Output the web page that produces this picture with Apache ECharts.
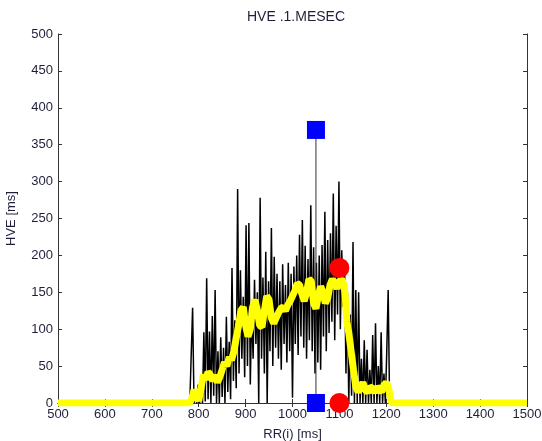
<!DOCTYPE html>
<html>
<head>
<meta charset="utf-8">
<script src="https://cdn.jsdelivr.net/npm/echarts@6/dist/echarts.min.js"></script>
<style>
  html, body { margin: 0; padding: 0; background: #fff; }
  #chart { width: 542px; height: 441px; }
</style>
</head>
<body>
<div id="chart"></div>
<script>
// raw HVE per RR interval (black), x grid starts at 781 ms, every 3 ms
var rrStart = 781
var rrStep = 3
var hveRaw = [
  0, 0, 129, 0, 10, 0, 25, 0, 35, 0,
  96, 2, 169, 5, 97, 0, 118, 10, 153, 0,
  70, 0, 89, 8, 75, 0, 117, 15, 83, 5,
  183, 30, 112, 20, 290, 40, 180, 60, 144, 35,
  241, 50, 244, 25, 130, 60, 167, 80, 150, 0,
  278, 60, 170, 40, 205, 0, 165, 70, 237, 50,
  198, 75, 175, 60, 165, 45, 188, 80, 160, 55,
  190, 70, 175, 7, 185, 80, 200, 65, 228, 90,
  248, 75, 213, 60, 195, 85, 268, 70, 211, 40,
  190, 55, 200, 45, 214, 90, 259, 70, 221, 95,
  230, 110, 284, 85, 240, 120, 300, 100, 207, 130,
  190, 40, 150, 0, 120, 10, 218, 0, 153, 0,
  150, 0, 60, 0, 85, 0, 72, 0, 45, 0,
  92, 0, 108, 0, 50, 0, 96, 0, 40, 0,
  70, 153, 0
]

// smoothed curve (yellow)
var rrSmooth = [
  500, 780, 785, 790, 795, 800, 805, 810, 815, 820, 825, 830, 835, 840, 845,
  850, 855, 860, 865, 870, 875, 880, 885, 890, 895, 900, 905, 910, 915, 920,
  925, 930, 935, 940, 945, 950, 955, 960, 965, 970, 975, 980, 985, 990, 995,
  1000, 1005, 1010, 1015, 1020, 1025, 1030, 1035, 1040, 1045, 1050, 1055, 1060,
  1065, 1070, 1075, 1080, 1085, 1090, 1095, 1100, 1105, 1110, 1113, 1116, 1120,
  1125, 1130, 1135, 1140, 1145, 1150, 1155, 1160, 1165, 1170, 1175, 1180, 1185,
  1190, 1195, 1200, 1205, 1210, 1215, 1500
]
var hveSmooth = [
  0, 0, 5, 18, 10, 3, 20, 38, 32, 42, 38, 30, 38, 28, 35,
  45, 55, 50, 62, 58, 70, 88, 105, 125, 130, 105, 90, 100, 130, 140,
  125, 105, 103, 125, 145, 140, 115, 108, 115, 122, 128, 130, 125, 133, 138,
  145, 152, 162, 160, 148, 138, 150, 168, 165, 135, 128, 145, 158,
  150, 135, 142, 160, 168, 162, 155, 165, 168, 160, 140, 110, 95,
  70, 45, 22, 15, 20, 28, 18, 14, 22, 20, 14, 22, 18,
  15, 24, 28, 20, 2, 0, 0
]

// markers
var squareRR = [1050, 1050]
var squareHVE = [370, 0]
var circleRR = [1100, 1100]
var circleHVE = [183, 0]

var xTicks = [500, 1500, 100]
var yTicks = [0, 500, 50]

var rawData = hveRaw.map(function (v, i) { return [rrStart + i * rrStep, v] })
var smoothData = rrSmooth.map(function (x, i) { return [x, hveSmooth[i]] })
var squareData = squareRR.map(function (x, i) { return [x, squareHVE[i]] })
var circleData = circleRR.map(function (x, i) { return [x, circleHVE[i]] })

var textColor = '#1f1f3a'
var frameColor = '#333'
var font = 'Liberation Sans'

var chart = echarts.init(document.getElementById('chart'))
var option = {
  animation: false,
  backgroundColor: '#fff',
  title: {
    text: 'HVE .1.MESEC',
    left: 291,
    top: 5,
    textAlign: 'center',
    textStyle: {
      fontFamily: font,
      fontSize: 14,
      fontWeight: 'normal',
      color: textColor
    }
  },
  grid: { left: 58, right: 15, top: 34, bottom: 38, outerBoundsMode: 'none' },
  xAxis: [
    {
      type: 'value',
      min: xTicks[0],
      max: xTicks[1],
      interval: xTicks[2],
      name: 'RR(i) [ms]',
      nameLocation: 'middle',
      nameGap: 25,
      nameTextStyle: { fontFamily: font, fontSize: 13, color: textColor },
      axisLine: { lineStyle: { color: frameColor, width: 1 } },
      axisTick: { inside: true, length: 4, lineStyle: { color: frameColor } },
      axisLabel: {
        fontFamily: font,
        fontSize: 13,
        color: textColor,
        margin: 5,
        formatter: function (v) { return String(v) }
      },
      splitLine: { show: false }
    },
    {
      type: 'value',
      position: 'top',
      min: xTicks[0],
      max: xTicks[1],
      interval: xTicks[2],
      axisLine: { lineStyle: { color: frameColor, width: 1 } },
      axisTick: { inside: true, length: 4, lineStyle: { color: frameColor } },
      axisLabel: { show: false },
      splitLine: { show: false }
    }
  ],
  yAxis: [
    {
      type: 'value',
      min: yTicks[0],
      max: yTicks[1],
      interval: yTicks[2],
      name: 'HVE [ms]',
      nameLocation: 'middle',
      nameGap: 40,
      nameTextStyle: { fontFamily: font, fontSize: 13, color: textColor },
      axisLine: { show: true, lineStyle: { color: frameColor, width: 1 } },
      axisTick: { show: true, inside: true, length: 4, lineStyle: { color: frameColor } },
      axisLabel: { fontFamily: font, fontSize: 13, color: textColor, margin: 5 },
      splitLine: { show: false }
    },
    {
      type: 'value',
      position: 'right',
      min: yTicks[0],
      max: yTicks[1],
      interval: yTicks[2],
      axisLine: { show: true, lineStyle: { color: frameColor, width: 1 } },
      axisTick: { show: true, inside: true, length: 4, lineStyle: { color: frameColor } },
      axisLabel: { show: false },
      splitLine: { show: false }
    }
  ],
  series: [
    {
      name: 'raw',
      type: 'line',
      data: rawData,
      showSymbol: false,
      lineStyle: { color: '#000', width: 1.5 },
      z: 2
    },
    {
      name: 'peak',
      type: 'line',
      data: squareData,
      showSymbol: false,
      lineStyle: { color: '#333', width: 1 },
      z: 3
    },
    {
      name: 'smooth',
      type: 'line',
      data: smoothData,
      showSymbol: false,
      lineStyle: { color: '#ffff00', width: 7 },
      z: 4
    },
    {
      name: 'square',
      type: 'scatter',
      data: squareData,
      symbol: 'rect',
      symbolSize: 18,
      clip: false,
      itemStyle: { color: '#0000ff', opacity: 1 },
      z: 6
    },
    {
      name: 'circle',
      type: 'scatter',
      data: circleData,
      symbol: 'circle',
      symbolSize: 20,
      clip: false,
      itemStyle: { color: '#ff0000', opacity: 1 },
      z: 6
    }
  ]
}
option && chart.setOption(option)
</script>
</body>
</html>
